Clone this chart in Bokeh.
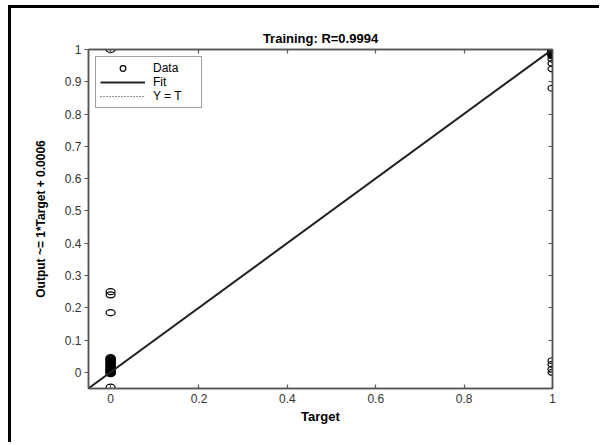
from bokeh.plotting import figure
from bokeh.models import (LinearAxis, FixedTicker, Legend, LegendItem, Range1d,
                          ColumnDataSource)
from bokeh.embed import file_html
from bokeh.resources import INLINE

# ---- data ----
title_text = "Training: R=0.9994"
x_label = "Target"
y_label = "Output ~= 1*Target + 0.0006"

target_zero_outputs = [1.0, 0.25, 0.24, 0.185,
                       0.046, 0.043, 0.041, 0.038, 0.036, 0.034, 0.031, 0.029,
                       0.027, 0.024, 0.022, 0.019, 0.017, 0.015, 0.013, 0.011,
                       0.009, 0.007, 0.005, 0.003, 0.002, 0.0, -0.002, -0.004,
                       -0.046]
target_one_outputs = [1.0, 0.999, 0.998, 0.996, 0.995, 0.993, 0.991, 0.99,
                      0.988, 0.986, 0.984, 0.982, 0.98, 0.97, 0.957, 0.94,
                      0.88, 0.036, 0.025, 0.01, 0.0]
fit_slope = 1.0
fit_intercept = 0.0006
x_ticks = [0, 0.2, 0.4, 0.6, 0.8, 1]
y_ticks = [0, 0.1, 0.2, 0.3, 0.4, 0.5, 0.6, 0.7, 0.8, 0.9, 1]
x_limits = (-0.05, 1.0)
y_limits = (-0.05, 1.0)

FONT = "Liberation Sans"
AX = "#555555"

p = figure(width=591, height=437, output_backend="svg", toolbar_location=None,
           x_range=Range1d(*x_limits), y_range=Range1d(*y_limits),
           min_border_left=77, min_border_right=50, min_border_top=41,
           min_border_bottom=57, title=title_text)
p.styles = {"border-left": "3px solid black", "border-top": "3px solid black",
            "margin-left": "8px", "margin-top": "5px"}
p.background_fill_color = "white"
p.border_fill_color = "white"
p.outline_line_color = AX
p.outline_line_width = 1.5
p.grid.visible = False

p.title.align = "center"
p.title.text_font = FONT
p.title.text_font_size = "13px"
p.title.text_font_style = "bold"
p.title.text_color = "black"
p.title.standoff = 7

xa = p.xaxis[0]
ya = p.yaxis[0]

# data
xs = [0.0] * len(target_zero_outputs) + [1.0] * len(target_one_outputs)
ys = target_zero_outputs + target_one_outputs
src = ColumnDataSource(dict(x=xs, y=ys))
p.ellipse(x="x", y="y", width=9, height=6, width_units="screen",
          height_units="screen", source=src, fill_color=None,
          line_color="black", line_width=1.2)
# renderer used only for the legend swatch (muted on the canvas)
data_leg = p.scatter(x="x", y="y", source=src, marker="circle", size=7,
                     fill_color=None, line_color="black", line_width=1.2,
                     muted_alpha=0)
data_leg.muted = True

# fit and Y=T
lx = list(x_limits)
fit_y = [fit_slope * v + fit_intercept for v in lx]
fit_r = p.line(lx, fit_y, line_color="#222222", line_width=2)
yt_r = p.line(lx, lx, line_color="#222222", line_width=1, line_dash="1 2")

# axes
xa.ticker = FixedTicker(ticks=x_ticks)
xa.axis_label = x_label
xa.major_tick_in = 4
xa.major_tick_out = 0
xa.major_label_standoff = 5
xa.axis_label_standoff = 3

ya.ticker = FixedTicker(ticks=y_ticks)
ya.axis_label = y_label
ya.major_tick_in = 0
ya.major_tick_out = 4
ya.major_label_standoff = 3
ya.axis_label_standoff = 14

top_ax = LinearAxis(ticker=FixedTicker(ticks=x_ticks), major_tick_in=4, major_tick_out=0,
                    major_label_overrides={t: "" for t in x_ticks})
right_ax = LinearAxis(ticker=FixedTicker(ticks=y_ticks), major_tick_in=4, major_tick_out=0,
                      major_label_overrides={t: "" for t in y_ticks})
p.add_layout(top_ax, "above")
p.add_layout(right_ax, "right")

for ax in (xa, ya, top_ax, right_ax):
    ax.axis_line_color = AX
    ax.axis_line_width = 1.5
    ax.major_tick_line_color = AX
    ax.major_tick_line_width = 1.2
    ax.minor_tick_line_color = None
    ax.major_label_text_font = FONT
    ax.major_label_text_font_size = "12px"
    ax.major_label_text_color = "#333333"
    ax.axis_label_text_font = FONT
    ax.axis_label_text_font_size = "13px"
    ax.axis_label_text_font_style = "bold"
    ax.axis_label_text_color = "black"
top_ax.major_label_standoff = 0
right_ax.major_label_standoff = 0
ya.axis_label_text_font_size = "12px"

legend = Legend(items=[LegendItem(label="Data", renderers=[data_leg]),
                       LegendItem(label="Fit", renderers=[fit_r]),
                       LegendItem(label="Y = T", renderers=[yt_r])],
                location="top_left")
legend.margin = 7
legend.padding = 4
legend.spacing = 0
legend.glyph_width = 45
legend.glyph_height = 14
legend.label_height = 14
legend.label_standoff = 8
legend.label_width = 44
legend.label_text_font = FONT
legend.label_text_font_size = "12px"
legend.label_text_color = "black"
legend.border_line_color = "#444444"
legend.border_line_width = 1.5
legend.background_fill_alpha = 1.0
p.add_layout(legend, "center")

open("out.html", "w").write(file_html(p, INLINE))
